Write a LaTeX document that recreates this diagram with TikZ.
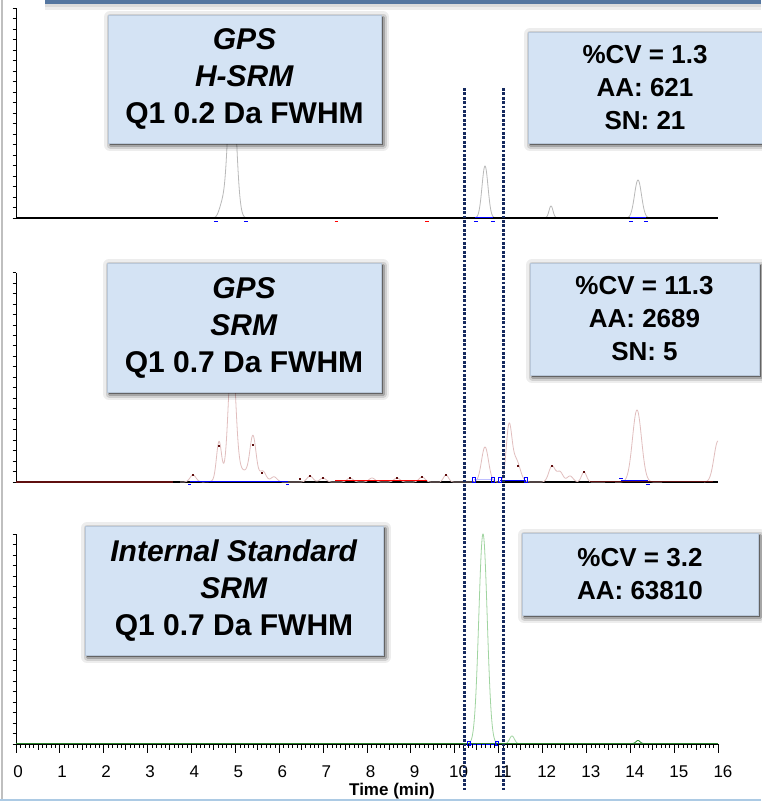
\documentclass[tikz,border=0pt]{standalone}
\usepackage{fontspec}
\setmainfont{Liberation Sans}
\usetikzlibrary{shadows}
\definecolor{boxblue}{RGB}{212,227,244}
\definecolor{boxedge}{RGB}{185,200,218}
\definecolor{navydot}{RGB}{22,42,95}
\definecolor{topbar}{RGB}{84,118,160}
\definecolor{trgray}{RGB}{185,185,185}
\definecolor{trrose}{RGB}{225,190,190}
\definecolor{trgreen}{RGB}{160,212,160}
\definecolor{basegreen}{RGB}{40,130,40}
\definecolor{darkred}{RGB}{95,15,15}
\definecolor{bottomline}{RGB}{172,202,228}
\begin{document}
\begin{tikzpicture}[x=1pt,y=-1pt,
  declare function={gs(\x,\c,\s)=exp(-0.5*((\x-\c)/\s)*((\x-\c)/\s));},
  boxshadow/.style={
    general shadow={shadow xshift=2pt, shadow yshift=-2pt, draw=black, fill=black, line width=12pt, line join=round, draw opacity=0.07, fill opacity=0.4},
    general shadow={shadow xshift=2pt, shadow yshift=-2pt, draw=black, line width=7pt, line join=round, draw opacity=0.12},
    general shadow={shadow xshift=2pt, shadow yshift=-2pt, draw=black, line width=3pt, line join=round, draw opacity=0.2}},
  lbox/.style={boxshadow, rectangle, fill=boxblue, draw=boxedge, line width=0.8pt, inner sep=0pt, align=center,
    font=\bfseries\fontsize{30}{37}\selectfont},
  rbox/.style={boxshadow, rectangle, fill=boxblue, draw=boxedge, line width=0.8pt, inner sep=0pt, align=center,
    font=\bfseries\fontsize{26}{33}\selectfont},
  yaxis/.style={black, line width=0.9pt},
  ytick/.style={black, line width=0.7pt},
  dotline/.style={navydot, line width=3pt, dash pattern=on 2.8pt off 1.6pt},
  trace1/.style={trgray, line width=0.8pt},
  trace2/.style={trrose, line width=0.8pt},
  trace3/.style={trgreen, line width=0.8pt},
  intline/.style={blue, line width=1pt},
  ticklab/.style={font=\fontsize{17}{17}\selectfont, inner sep=0pt}
]
\useasboundingbox (0,0) rectangle (761,801);
\fill[white] (0,0) rectangle (761,801);

% frame pieces
\fill[black!25] (0.8,0) rectangle (3.2,801);
\fill[bottomline] (0,798.5) rectangle (761,801);
\fill[black, opacity=0.14] (45,4) rectangle (761,7);
\fill[black, opacity=0.07] (45,7) rectangle (761,10);
\fill[topbar] (45,0) rectangle (761,4.2);

% ---------- y axes ----------
\foreach \yt/\yb in {8.3/218, 272.5/482, 534/744}{
  \draw[yaxis] (16,\yt) -- (16,\yb);
  \foreach \i in {0,...,20}{
    \pgfmathsetmacro{\yy}{\yt+\i*(\yb-\yt)/20}
    \draw[ytick] (12.5,\yy) -- (16,\yy);
  }
}

% ---------- panel 1 ----------
\draw[trace1] plot[domain=200:265, samples=200] (\x,{218-150*gs(\x,232,4)-12*gs(\x,222,3)});
\draw[trace1] plot[domain=470:500, samples=90] (\x,{218-52*gs(\x,485,3)});
\draw[trace1] plot[domain=543:559, samples=50] (\x,{218-12*gs(\x,551,2)});
\draw[trace1] plot[domain=622:654, samples=90] (\x,{218-38*gs(\x,638,3.5)});
\draw[black, line width=2.3pt] (16,218) -- (718,218);
\draw[intline] (475,217.8) -- (493,217.8);
\draw[intline] (630,217.8) -- (646,217.8);
\foreach \xx in {216,246,476,493,631,646}{
  \draw[intline] (\xx-2.2,221.5) -- (\xx+2.2,221.5);
}
\draw[red, line width=1pt] (334.5,221.5) -- (338,221.5);
\draw[red, line width=1pt] (425,221.5) -- (429,221.5);

% ---------- panel 2 ----------
\draw[black, line width=1.4pt] (16,482) -- (718,482);
\draw[darkred, line width=1.4pt] (16,482) -- (173,482);
\draw[trace2] plot[domain=180:300, samples=300] (\x,{482-7*gs(\x,193,3)-38*gs(\x,219,2.5)-125*gs(\x,232,3.5)-40*gs(\x,253,3)-12*gs(\x,240,12)-9*gs(\x,263,3)-5*gs(\x,274,3)});
\draw[trace2] plot[domain=300:440, samples=280] (\x,{482-6*gs(\x,310,3)-4*gs(\x,323,3)-4*gs(\x,350,3)-4*gs(\x,372,3)-4*gs(\x,397,3)-5*gs(\x,422,3)});
\draw[trace2] plot[domain=440:540, samples=250] (\x,{482-7*gs(\x,446,2.5)-35*gs(\x,485,3.5)-54*gs(\x,509,2.8)-22*gs(\x,516,4)});
\draw[trace2] plot[domain=540:605, samples=160] (\x,{482-16*gs(\x,552,3.2)-10*gs(\x,560,3)-6*gs(\x,570,3)-10*gs(\x,584,2.5)});
\draw[trace2] plot[domain=615:662, samples=120] (\x,{482-72*gs(\x,637,4.5)});
\draw[trace2] plot[domain=704:718, samples=40] (\x,{482-41*gs(\x,718,4)});
\draw[darkred, line width=1.2pt] (590,481.5) -- (713,481.5);
\draw[red, line width=1.1pt] (335,480.5) -- (427,480.5);
\foreach \xx/\yy in {193/475, 219/446, 253/445, 262/473, 300/479, 310/476, 323/478, 350/478, 397/478, 422/477, 446/475, 518/466, 552/466, 584/472}{
  \fill[darkred] (\xx-0.8,\yy-0.8) rectangle (\xx+0.8,\yy+0.8);
}
\draw[intline] (190,481.3) -- (288,481.3);
\draw[intline] (188,484.8) -- (191,484.8);
\draw[intline] (286,484.8) -- (289,484.8);
\draw[blue!25, line width=0.8pt] (474,479.5) -- (493,479.5);
\draw[intline] (500,480) -- (526,480);
\foreach \xx in {474,493,500,526}{
  \draw[blue, line width=0.8pt] (\xx-1.7,477.5) rectangle (\xx+1.7,482.5);
}
\draw[intline] (621,480.5) -- (648,480.5);
\draw[intline] (619,478) -- (623,478);
\draw[intline] (646,484) -- (650,484);

% ---------- panel 3 ----------
\draw[trace3] plot[domain=465:502, samples=150] (\x,{744-210*gs(\x,483,4.2)});
\draw[trace3] plot[domain=505:520, samples=40] (\x,{744-8*gs(\x,512,2.5)});
\draw[black, line width=1pt] (16,744.5) -- (718,744.5);
\draw[basegreen, line width=1.4pt] (16,743.5) -- (718,743.5);
\draw[basegreen, line width=0.8pt] plot[domain=632:644, samples=30] (\x,{743.5-3*gs(\x,638,2)});
\draw[intline] (469,744.5) -- (497,744.5);
\draw[blue, line width=0.8pt] (467.5,741) rectangle (470.5,745);
\draw[blue, line width=0.8pt] (495.5,741) rectangle (498.5,745);

% x axis ticks
\foreach \i in {0,...,160}{
  \pgfmathsetmacro{\xx}{16+4.3875*\i}
  \pgfmathtruncatemacro{\mten}{mod(\i,10)}
  \pgfmathtruncatemacro{\mfive}{mod(\i,5)}
  \ifnum\mten=0
    \draw[black, line width=0.8pt] (\xx,744) -- (\xx,753);
  \else\ifnum\mfive=0
    \draw[black, line width=0.6pt] (\xx,744) -- (\xx,749.5);
  \else
    \draw[black, line width=0.5pt] (\xx,744) -- (\xx,748);
  \fi\fi
}
\foreach \t in {0,...,16}{
  \node[ticklab] (lab\t) at ({18+44.06*\t},772) {\t};
}
\node[font=\bfseries\fontsize{17}{17}\selectfont, inner sep=0pt] (xlabel) at (392,791) {Time (min)};

% dotted guide lines
\coordinate (d1t) at (464,88);
\coordinate (d1b) at (464,790);
\coordinate (d2t) at (503,88);
\coordinate (d2b) at (503,790);
\draw[dotline] (d1t) -- (d1b);
\draw[dotline] (d2t) -- (d2b);

% ---------- boxes ----------
\node[lbox, minimum width=273pt, minimum height=128pt] (b1) at (244.5,79)
  {\textit{GPS}\\\textit{H-SRM}\\Q1 0.2 Da FWHM};
\node[rbox, minimum width=234pt, minimum height=111pt] (b2) at (645,87.5)
  {\%CV = 1.3\\AA: 621\\SN: 21};
\node[lbox, minimum width=274pt, minimum height=129pt] (b3) at (244,327.5)
  {\textit{GPS}\\\textit{SRM}\\Q1 0.7 Da FWHM};
\node[rbox, minimum width=229pt, minimum height=112pt] (b4) at (644.5,319)
  {\%CV = 11.3\\AA: 2689\\SN: 5};
\node[lbox, minimum width=298pt, minimum height=129pt] (b5) at (234,590.5)
  {\textit{Internal Standard}\\\textit{SRM}\\Q1 0.7 Da FWHM};
\node[rbox, minimum width=236pt, minimum height=82pt] (b6) at (640,574)
  {\%CV = 3.2\\AA: 63810};
\end{tikzpicture}
\end{document}
